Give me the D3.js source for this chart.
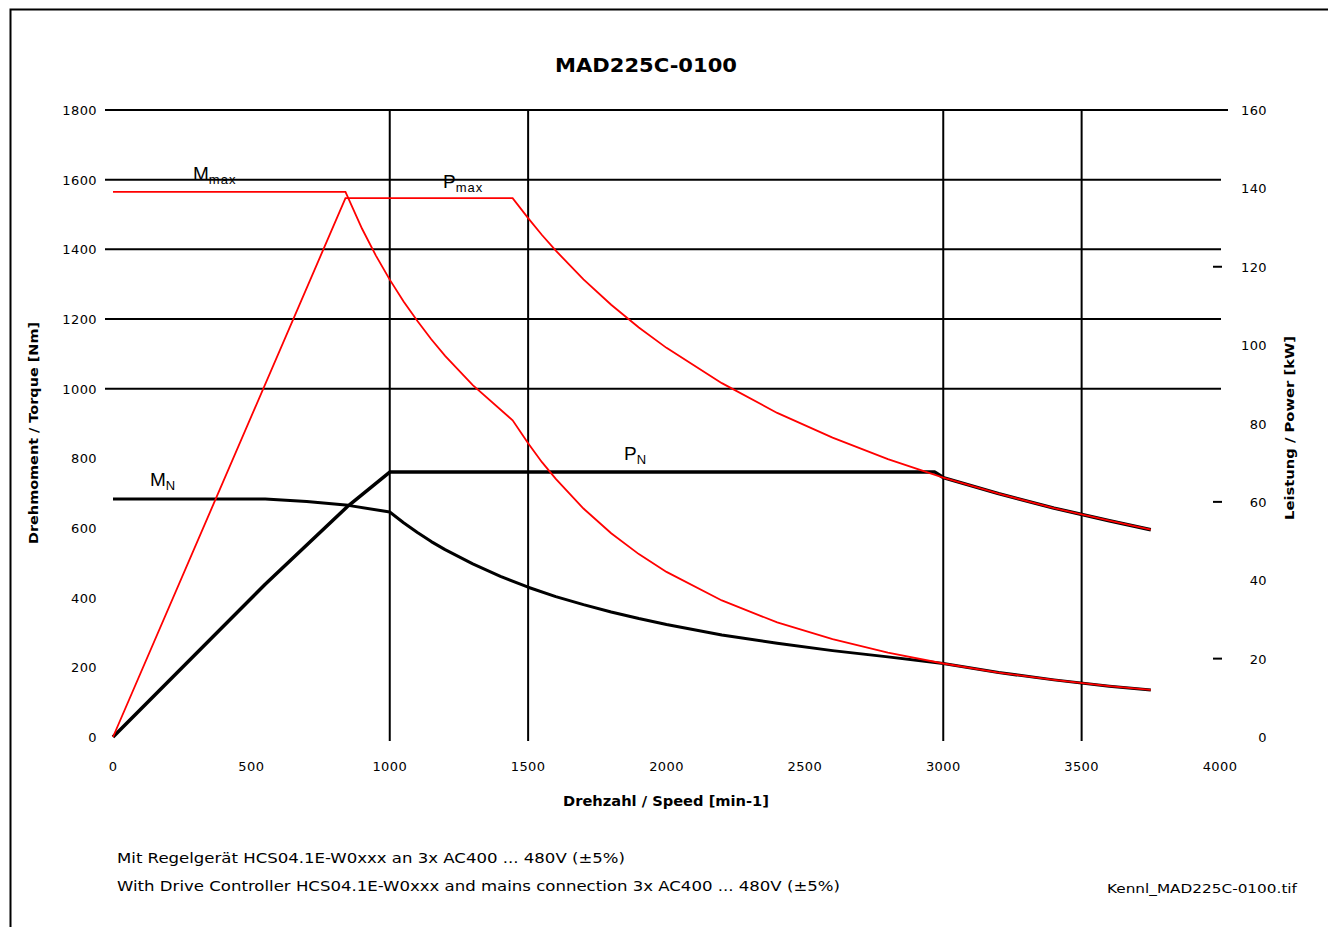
<!DOCTYPE html>
<html>
<head>
<meta charset="utf-8">
<script src="https://cdn.jsdelivr.net/npm/d3@7"></script>
<style>
  html, body { margin: 0; padding: 0; background: #fff; }
  svg { display: block; font-family: "DejaVu Sans", "Liberation Sans", Arial, sans-serif; }
</style>
</head>
<body>
<svg id="chart" width="1328" height="927"></svg>
<script>
// ---- Data ----
const title = "MAD225C-0100";
const xTicks = [0, 500, 1000, 1500, 2000, 2500, 3000, 3500, 4000];
const torqueTicks = [0, 200, 400, 600, 800, 1000, 1200, 1400, 1600, 1800];
const powerTicks = [0, 20, 40, 60, 80, 100, 120, 140, 160];
const torqueGrid = [1000, 1200, 1400, 1600, 1800];
const speedGrid = [1000, 1500, 3000, 3500];
const powerMarks = [20, 60, 120];

// Mmax (torque, Nm)
const mmaxSpeed  = [0, 840, 900, 950, 1000, 1050, 1100, 1150, 1200, 1300, 1444, 1500, 1550, 1600, 1700, 1800, 1900, 2000, 2200, 2400, 2600, 2800, 3000, 3200, 3400, 3600, 3750];
const mmaxTorque = [1565, 1565, 1459, 1382, 1313, 1250, 1194, 1142, 1094, 1010, 909, 843, 789, 741, 656, 585, 525, 474, 392, 329, 281, 242, 211, 185, 164, 146, 135];

// Pmax (power, kW)
const pmaxSpeed = [0, 840, 1444, 1500, 1550, 1600, 1700, 1800, 1900, 2000, 2200, 2400, 2600, 2800, 3000, 3200, 3400, 3600, 3750];
const pmaxPower = [0, 137.5, 137.5, 132.4, 128.1, 124.1, 116.8, 110.3, 104.5, 99.3, 90.3, 82.7, 76.4, 70.9, 66.2, 62.1, 58.4, 55.2, 52.9];

// MN (torque, Nm)
const mnSpeed  = [0, 550, 700, 850, 1000, 1050, 1100, 1150, 1200, 1300, 1400, 1500, 1600, 1700, 1800, 1900, 2000, 2200, 2400, 2600, 2800, 3000, 3200, 3400, 3600, 3750];
const mnTorque = [683, 683, 676, 665, 646, 615, 587, 561, 538, 497, 461, 430, 403, 380, 359, 340, 323, 293, 269, 248, 230, 211, 185, 164, 146, 135];

// PN (power, kW)
const pnSpeed = [0, 550, 850, 1000, 2970, 3000, 3200, 3400, 3600, 3750];
const pnPower = [0, 39.0, 59.0, 67.6, 67.6, 66.2, 62.1, 58.4, 55.2, 52.9];

const noteLines = [
  "Mit Regelgerät HCS04.1E-W0xxx an 3x AC400 ... 480V (±5%)",
  "With Drive Controller HCS04.1E-W0xxx and mains connection 3x AC400 ... 480V (±5%)"
];
const fileName = "Kennl_MAD225C-0100.tif";

// ---- Drawing ----
const svg = d3.select("#chart");

// frame (right edge lies outside the picture)
svg.append("rect").attr("x", 10.5).attr("y", 9.5).attr("width", 1340).attr("height", 940)
  .attr("fill", "none").attr("stroke", "#000").attr("stroke-width", 2);

const x = d3.scaleLinear().domain([0, 4000]).range([113, 1220]);
const yT = d3.scaleLinear().domain([0, 1800]).range([737, 110]);
const yP = d3.scaleLinear().domain([0, 160]).range([737, 110]);

// title
svg.append("text").attr("x", 646).attr("y", 72).attr("text-anchor", "middle")
  .attr("font-size", 19).attr("font-weight", "bold")
  .attr("textLength", 182).attr("lengthAdjust", "spacingAndGlyphs").text(title);

// horizontal grid
svg.append("g").selectAll("line").data(torqueGrid).join("line")
  .attr("x1", 105).attr("x2", d => d === 1800 ? 1228 : 1221)
  .attr("y1", d => yT(d)).attr("y2", d => yT(d))
  .attr("stroke", "#000").attr("stroke-width", 2);

// vertical grid
svg.append("g").selectAll("line").data(speedGrid).join("line")
  .attr("x1", d => x(d)).attr("x2", d => x(d))
  .attr("y1", yT(1800)).attr("y2", yT(0) + 4)
  .attr("stroke", "#000").attr("stroke-width", 2);

// right-side short marks
svg.append("g").selectAll("line").data(powerMarks).join("line")
  .attr("x1", 1213).attr("x2", 1222)
  .attr("y1", d => yP(d)).attr("y2", d => yP(d))
  .attr("stroke", "#000").attr("stroke-width", 2);

// left tick labels
svg.append("g").selectAll("text").data(torqueTicks).join("text")
  .attr("x", 97).attr("y", d => yT(d) + 5).attr("text-anchor", "end")
  .attr("font-size", 13).attr("letter-spacing", 0.4).text(d => d);

// right tick labels
svg.append("g").selectAll("text").data(powerTicks).join("text")
  .attr("x", 1267).attr("y", d => yP(d) + 5).attr("text-anchor", "end")
  .attr("font-size", 13).attr("letter-spacing", 0.4).text(d => d);

// x tick labels
svg.append("g").selectAll("text").data(xTicks).join("text")
  .attr("x", d => x(d)).attr("y", 771).attr("text-anchor", "middle")
  .attr("font-size", 13).attr("letter-spacing", 0.4).text(d => d);

// axis titles
svg.append("text").attr("x", 666).attr("y", 806).attr("text-anchor", "middle")
  .attr("font-size", 14).attr("font-weight", "bold")
  .attr("textLength", 206).attr("lengthAdjust", "spacingAndGlyphs").text("Drehzahl / Speed [min-1]");
svg.append("text").attr("transform", "translate(38,433) rotate(-90)").attr("text-anchor", "middle")
  .attr("font-size", 13).attr("font-weight", "bold")
  .attr("textLength", 222).attr("lengthAdjust", "spacingAndGlyphs").text("Drehmoment / Torque [Nm]");
svg.append("text").attr("transform", "translate(1294,428) rotate(-90)").attr("text-anchor", "middle")
  .attr("font-size", 13).attr("font-weight", "bold")
  .attr("textLength", 184).attr("lengthAdjust", "spacingAndGlyphs").text("Leistung / Power [kW]");

// curves
const lineT = d3.line().x(d => x(d[0])).y(d => yT(d[1]));
const lineP = d3.line().x(d => x(d[0])).y(d => yP(d[1]));

svg.append("path").datum(d3.zip(mnSpeed, mnTorque)).attr("d", lineT)
  .attr("fill", "none").attr("stroke", "#000").attr("stroke-width", 3).attr("stroke-linejoin", "round");
svg.append("path").datum(d3.zip(pnSpeed, pnPower)).attr("d", lineP)
  .attr("fill", "none").attr("stroke", "#000").attr("stroke-width", 3.5).attr("stroke-linejoin", "round");
svg.append("path").datum(d3.zip(mmaxSpeed, mmaxTorque)).attr("d", lineT)
  .attr("fill", "none").attr("stroke", "#ff0000").attr("stroke-width", 1.8);
svg.append("path").datum(d3.zip(pmaxSpeed, pmaxPower)).attr("d", lineP)
  .attr("fill", "none").attr("stroke", "#ff0000").attr("stroke-width", 1.8);

// curve labels
function label(px, py, main, sub) {
  const t = svg.append("text").attr("x", px).attr("y", py).attr("font-size", 19)
    .attr("font-family", "Liberation Sans, Arial, sans-serif");
  t.append("tspan").text(main);
  t.append("tspan").attr("font-size", 13).attr("dy", 4).attr("letter-spacing", 1).text(sub);
}
label(193, 180, "M", "max");
label(443, 188, "P", "max");
label(150, 486, "M", "N");
label(624, 460, "P", "N");

// notes
const noteWidths = [508, 723];
svg.append("g").selectAll("text").data(noteLines).join("text")
  .attr("x", 117).attr("y", (d, i) => 863 + i * 28)
  .attr("font-size", 14).attr("textLength", (d, i) => noteWidths[i]).attr("lengthAdjust", "spacingAndGlyphs")
  .text(d => d);
svg.append("text").attr("x", 1107).attr("y", 893)
  .attr("font-size", 13).attr("textLength", 190).attr("lengthAdjust", "spacingAndGlyphs").text(fileName);
</script>
</body>
</html>
